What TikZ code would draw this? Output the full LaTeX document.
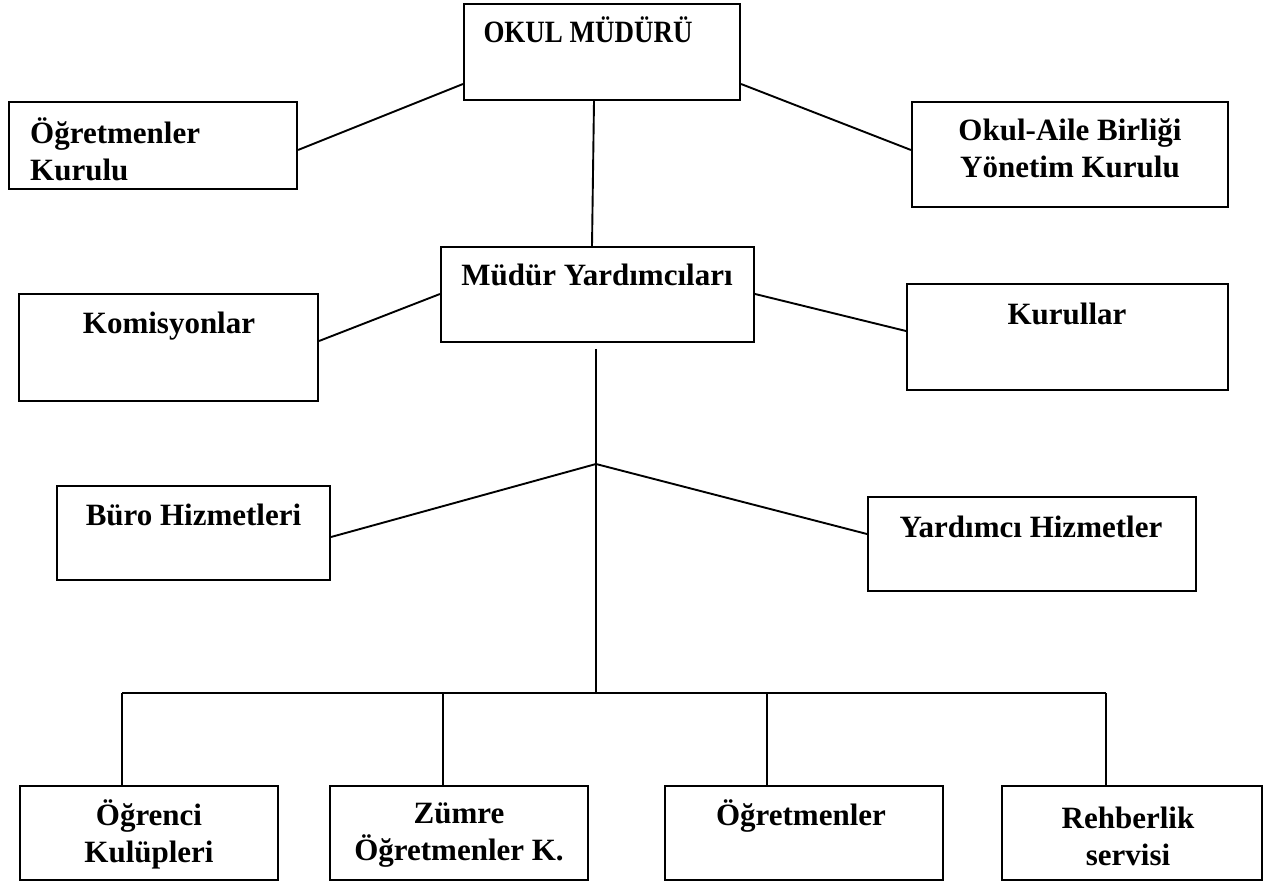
\documentclass[tikz,border=0pt]{standalone}
\usepackage{fontspec}
\setmainfont{Liberation Serif}
\begin{document}
\begin{tikzpicture}[x=1pt,y=-1pt]
\tikzset{
  box/.style={draw, line width=2.1pt, inner sep=0pt},
  lbl/.style={font=\bfseries\fontsize{31}{37}\selectfont, align=center, inner sep=0pt},
  conn/.style={line width=1.9pt}
}
\useasboundingbox (0,0) rectangle (1266,882);
% boxes
\node[box, minimum width=276pt, minimum height=96pt]  (om)   at (602,52)    {};
\node[box, minimum width=288pt, minimum height=87pt]  (ok)   at (153,145.5) {};
\node[box, minimum width=316pt, minimum height=105pt] (oab)  at (1070,154.5){};
\node[box, minimum width=313pt, minimum height=95pt]  (my)   at (597.5,294.5){};
\node[box, minimum width=299pt, minimum height=107pt] (kom)  at (168.5,347.5){};
\node[box, minimum width=321pt, minimum height=106pt] (kur)  at (1067.5,337){};
\node[box, minimum width=273pt, minimum height=94pt]  (buro) at (193.5,533) {};
\node[box, minimum width=328pt, minimum height=94pt]  (yard) at (1032,544)  {};
\node[box, minimum width=258pt, minimum height=94pt]  (ogr)  at (149,833)   {};
\node[box, minimum width=258pt, minimum height=94pt]  (zum)  at (459,833)   {};
\node[box, minimum width=278pt, minimum height=94pt]  (ogt)  at (804,833)   {};
\node[box, minimum width=260pt, minimum height=94pt]  (reh)  at (1132,833)  {};
% labels
\node[lbl, anchor=base] (omt) at (588,43) {\addfontfeature{FakeStretch=0.87}OKUL MÜDÜRÜ};
\node[lbl, align=left, anchor=west] (okt) at (30,149) {Öğretmenler\\Kurulu};
\node[lbl] (oabt) at (1070,148) {Okul-Aile Birliği\\Yönetim Kurulu};
\node[lbl, anchor=base] (myt) at (597,286) {Müdür Yardımcıları};
\node[lbl, anchor=base] (komt) at (169,334) {Komisyonlar};
\node[lbl, anchor=base] (kurt) at (1067,325) {Kurullar};
\node[lbl, anchor=base] (burot) at (193.5,525) {Büro Hizmetleri};
\node[lbl, anchor=base] (yardt) at (1031,537) {Yardımcı Hizmetler};
\node[lbl] (ogrt) at (149,834.5) {Öğrenci\\Kulüpleri};
\node[lbl] (zumt) at (459,835.5) {Zümre\\Öğretmenler K.};
\node[lbl, anchor=base] (ogtt) at (801,825) {Öğretmenler};
\node[lbl] (reht) at (1128,836.5) {Rehberlik\\servisi};
% connectors
\draw[conn] (om.west |- 0,84) -- (ok.east |- 0,150);
\draw[conn] (om.east |- 0,84) -- (oab.west |- 0,150);
\draw[conn] (om.south -| 594,0) -- (my.north -| 592,0);
\draw[conn] (my.west |- 0,294) -- (kom.east |- 0,341);
\draw[conn] (my.east |- 0,294) -- (kur.west |- 0,331);
\coordinate (top) at (596,349);
\coordinate (j) at (596,464);
\coordinate (bus) at (596,693);
\coordinate (busL) at (122,693);
\coordinate (busR) at (1106,693);
\coordinate (d2) at (443,693);
\coordinate (d3) at (767,693);
\draw[conn] (top) -- (bus);
\draw[conn] (j) -- (buro.east |- 0,537);
\draw[conn] (j) -- (yard.west |- 0,534);
\draw[conn] (busL) -- (busR);
\draw[conn] (busL) -- (busL |- ogr.north);
\draw[conn] (d2) -- (d2 |- zum.north);
\draw[conn] (d3) -- (d3 |- ogt.north);
\draw[conn] (busR) -- (busR |- reh.north);
\end{tikzpicture}
\end{document}
